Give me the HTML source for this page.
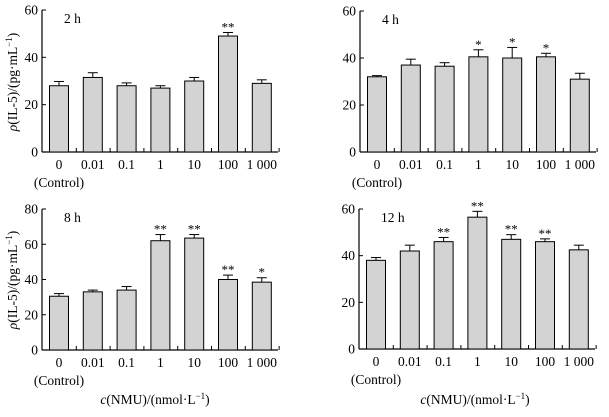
<!DOCTYPE html>
<html><head><meta charset="utf-8"><style>
body{margin:0;background:#fff}
svg{display:block;font-family:"Liberation Serif",serif}
</style></head><body>
<svg id="c" width="609" height="417"></svg>
<script>
const categories=["0","0.01","0.1","1","10","100","1 000"];
const v2=[28,31.5,28,27,30,49,29];
const e2=[1.8,2,1.2,1,1.5,1.5,1.5];
const s2=["","","","","","**",""];
const v4=[32,37,36.5,40.5,40,40.5,31];
const e4=[0.5,2.5,1.5,3,4.5,1.5,2.5];
const s4=["","","","*","*","*",""];
const v8=[30.5,33,34,62,63.5,40,38.5];
const e8=[1.5,1,2,3.5,2,2.5,2.5];
const s8=["","","","**","**","**","*"];
const v12=[38,42,46,56.5,47,46,42.5];
const e12=[1.2,2.5,1.8,2.5,2,1.2,2];
const s12=["","","**","**","**","**",""];
const ticks60=[0,20,40,60];
const ticks80=[0,20,40,60,80];
const svg=document.getElementById('c');
const NS="http://www.w3.org/2000/svg";
function el(t,a,txt){const e=document.createElementNS(NS,t);for(const k in a)e.setAttribute(k,a[k]);if(txt!==undefined)e.textContent=txt;svg.appendChild(e);return e;}
function panel(id,ax,top,bot,ymax,ticks,vals,errs,stars,label){
  const y=v=>bot-(v/ymax)*(bot-top);
  const x0=ax+17,step=33.8,bw=19;
  const xc=i=>x0+i*step;
  let e=el('line',{x1:ax,y1:top,x2:ax,y2:bot,stroke:'#000','stroke-width':1.2});
  
  e=el('line',{x1:ax,y1:bot,x2:ax+236,y2:bot,stroke:'#000','stroke-width':1.2});
  
  ticks.forEach(t=>{
    el('line',{x1:ax,y1:y(t),x2:ax+4,y2:y(t),stroke:'#000'});
    e=el('text',{x:ax-4,y:y(t)+4.5,'text-anchor':'end','font-size':13.5},t);
    
  });
  for(let i=1;i<=7;i++){const tx=ax+i*step+0.5;el('line',{x1:tx,y1:bot,x2:tx,y2:bot-4,stroke:'#000'});}
  vals.forEach((v,i)=>{
    const cx=xc(i);
    const eb=y(v+errs[i]);
    el('line',{x1:cx,y1:y(v),x2:cx,y2:eb,stroke:'#000'});
    el('line',{x1:cx-5,y1:eb,x2:cx+5,y2:eb,stroke:'#000'});
    let r=el('rect',{x:cx-bw/2,y:y(v),width:bw,height:bot-y(v),fill:'#d3d3d3',stroke:'#000','stroke-width':1});
    
    if(stars[i]){let s=el('text',{x:cx,y:eb-1,'text-anchor':'middle','font-size':13},stars[i]);
      }
    let t=el('text',{x:cx,y:bot+17,'text-anchor':'middle','font-size':13.5},categories[i]);
    
  });
  e=el('text',{x:xc(0),y:bot+35,'text-anchor':'middle','font-size':13.5},'(Control)');
  
  e=el('text',{x:ax+22,y:top+13,'font-size':13.5},label);
  
}
panel('p2h',42,10,152,60,ticks60,v2,e2,s2,'2 h');
panel('p4h',360,11,152,60,ticks60,v4,e4,s4,'4 h');
panel('p8h',42,209,350,80,ticks80,v8,e8,s8,'8 h');
panel('p12h',359,209,349,60,ticks60,v12,e12,s12,'12 h');
function ytitle(cy,name){
  const t=el('text',{x:0,y:0,'font-size':13.5,'text-anchor':'middle',transform:`translate(17,${cy}) rotate(-90)`});
  t.innerHTML='<tspan font-style="italic">ρ</tspan>(IL-5)/(pg·mL<tspan font-size="9" dy="-5">−1</tspan><tspan dy="5">)</tspan>';
  
}
ytitle(82,'y-axis-title-top');ytitle(280,'y-axis-title-bottom');
function xtitle(cx,name){
  const t=el('text',{x:cx,y:404,'font-size':13.5,'text-anchor':'middle'});
  t.innerHTML='<tspan font-style="italic">c</tspan>(NMU)/(nmol·L<tspan font-size="9" dy="-5">−1</tspan><tspan dy="5">)</tspan>';
  
}
xtitle(155,'x-axis-title-left');xtitle(475,'x-axis-title-right');
</script>
</body></html>
